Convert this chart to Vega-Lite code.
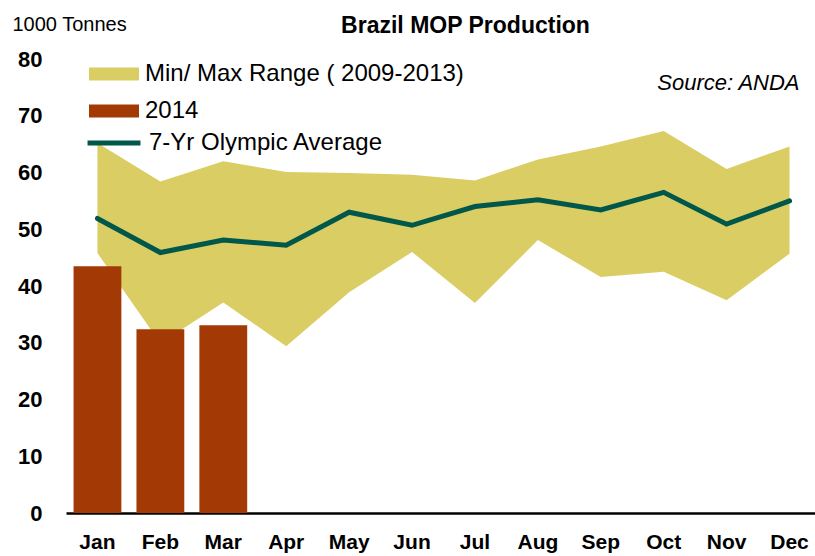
{
  "$schema": "https://vega.github.io/schema/vega-lite/v6.json",
  "width": 755,
  "height": 454,
  "autosize": {"type": "none"},
  "padding": {"left": 66, "top": 59, "right": 0, "bottom": 43},
  "background": "white",
  "config": {"view": {"stroke": null}, "font": "Liberation Sans"},
  "title": {
    "text": "Brazil MOP Production",
    "fontSize": 23,
    "fontWeight": "bold",
    "color": "black",
    "anchor": "middle",
    "dx": 22,
    "offset": -24
  },
  "data": {
    "values": [
      {"month": "Jan", "min": 45.8, "max": 65.2, "avg": 51.9, "y2014": 43.5},
      {"month": "Feb", "min": 29.9, "max": 58.4, "avg": 45.9, "y2014": 32.4},
      {"month": "Mar", "min": 37.1, "max": 62.0, "avg": 48.1, "y2014": 33.1},
      {"month": "Apr", "min": 29.4, "max": 60.1, "avg": 47.2, "y2014": null},
      {"month": "May", "min": 38.9, "max": 59.9, "avg": 53.0, "y2014": null},
      {"month": "Jun", "min": 46.0, "max": 59.6, "avg": 50.7, "y2014": null},
      {"month": "Jul", "min": 37.0, "max": 58.6, "avg": 54.0, "y2014": null},
      {"month": "Aug", "min": 48.1, "max": 62.3, "avg": 55.2, "y2014": null},
      {"month": "Sep", "min": 41.6, "max": 64.6, "avg": 53.4, "y2014": null},
      {"month": "Oct", "min": 42.5, "max": 67.3, "avg": 56.5, "y2014": null},
      {"month": "Nov", "min": 37.5, "max": 60.6, "avg": 50.9, "y2014": null},
      {"month": "Dec", "min": 45.7, "max": 64.6, "avg": 55.0, "y2014": null}
    ]
  },
  "encoding": {
    "x": {
      "field": "month",
      "type": "ordinal",
      "sort": null,
      "scale": {"paddingInner": 0.24, "paddingOuter": 0.12},
      "axis": {
        "title": null,
        "labelAngle": 0,
        "labelFontSize": 21,
        "labelFontWeight": "bold",
        "labelColor": "black",
        "labelPadding": 18,
        "ticks": false,
        "tickSize": 0,
        "domainColor": "black",
        "domainWidth": 2.5,
        "grid": false
      }
    }
  },
  "layer": [
    {
      "mark": {"type": "area", "opacity": 1},
      "encoding": {
        "y": {
          "field": "max",
          "type": "quantitative",
          "scale": {"domain": [0, 80], "nice": false},
          "axis": {
            "title": "1000 Tonnes",
            "titleAngle": 0,
            "titleAlign": "left",
            "titleBaseline": "alphabetic",
            "titleX": -54,
            "titleY": -29,
            "titleFontSize": 20,
            "titleFontWeight": "normal",
            "titleColor": "black",
            "values": [0, 10, 20, 30, 40, 50, 60, 70, 80],
            "labelFontSize": 22,
            "labelFontWeight": "bold",
            "labelColor": "black",
            "labelPadding": 24,
            "ticks": false,
            "tickSize": 0,
            "domain": false,
            "grid": false
          }
        },
        "y2": {"field": "min"},
        "fill": {
          "datum": "Min/ Max Range ( 2009-2013)",
          "type": "nominal",
          "scale": {
            "domain": ["Min/ Max Range ( 2009-2013)", "2014"],
            "range": ["#DACD64", "#A33A05"]
          },
          "legend": {
            "title": null,
            "orient": "none",
            "legendX": 23,
            "legendY": -10,
            "symbolType": "M-1,-0.26H1V0.26H-1Z",
            "symbolSize": 2500,
            "symbolStrokeWidth": 0,
            "symbolOpacity": 1,
            "labelFontSize": 24,
            "labelColor": "black",
            "labelOffset": 6,
            "labelLimit": 600,
            "rowPadding": -2,
            "padding": 0
          }
        }
      }
    },
    {
      "mark": {"type": "bar"},
      "encoding": {
        "y": {"field": "y2014", "type": "quantitative"},
        "fill": {"datum": "2014", "type": "nominal"}
      }
    },
    {
      "mark": {"type": "line", "strokeWidth": 5, "strokeCap": "round", "strokeJoin": "miter"},
      "encoding": {
        "y": {"field": "avg", "type": "quantitative"},
        "stroke": {
          "datum": "7-Yr Olympic Average",
          "type": "nominal",
          "scale": {"domain": ["7-Yr Olympic Average"], "range": ["#00574A"]},
          "legend": {
            "title": null,
            "orient": "none",
            "legendX": 19,
            "legendY": 55,
            "symbolType": "stroke",
            "symbolSize": 2800,
            "symbolStrokeWidth": 5,
            "labelFontSize": 24,
            "labelColor": "black",
            "labelOffset": 6,
            "labelLimit": 600,
            "padding": 0
          }
        }
      }
    },
    {
      "data": {"values": [{"label": "Source: ANDA", "month": "Dec", "pos": 74.5}]},
      "mark": {
        "type": "text",
        "align": "right",
        "baseline": "alphabetic",
        "fontSize": 22,
        "fontStyle": "italic",
        "fontWeight": "normal",
        "color": "black",
        "dx": 10
      },
      "encoding": {
        "x": {"field": "month", "type": "ordinal", "sort": null},
        "y": {"field": "pos", "type": "quantitative"},
        "text": {"field": "label"}
      }
    }
  ]
}
